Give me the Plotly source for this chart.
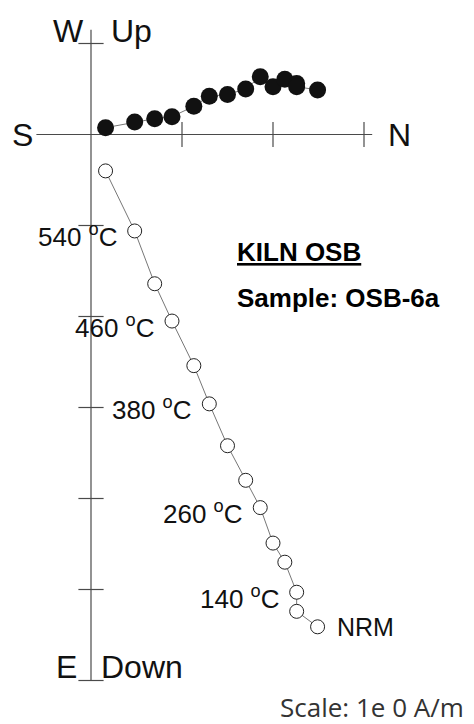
import plotly.graph_objects as go

# Zijderveld data (units of scale ticks), ordered from highest step to NRM
north = [0.16, 0.48, 0.70, 0.89, 1.13, 1.30, 1.50, 1.70, 1.86, 2.00, 2.13, 2.26, 2.26, 2.49]
west = [0.075, 0.137, 0.174, 0.196, 0.31, 0.42, 0.44, 0.50, 0.635, 0.525, 0.607, 0.56, 0.525, 0.49]
down = [0.40, 1.06, 1.64, 2.05, 2.54, 2.96, 3.42, 3.80, 4.10, 4.49, 4.70, 5.03, 5.24, 5.41]
step_labels = ["", "540 <sup>o</sup>C", "", "460 <sup>o</sup>C", "", "380 <sup>o</sup>C", "", "",
               "260 <sup>o</sup>C", "", "", "140 <sup>o</sup>C", "", "NRM"]
h_ticks = [1, 2, 3]
v_ticks = [1, -1, -2, -3, -4, -5, -6]

OFF = 8  # page body margin
W, H = 474 - OFF, 724 - OFF
X0, Y0, S = 91.0 - OFF, 134.5 - OFF, 91.0  # origin pixel and px per unit


def px(x):
    return (x - OFF) / W


def py(y):
    return 1 - (y - OFF) / H


fig = go.Figure()

axis_col = "#4a4a4a"
# axes
fig.add_trace(go.Scatter(x=[-0.6, 3.09], y=[0, 0], mode="lines",
                         line=dict(color=axis_col, width=1.2), hoverinfo="skip"))
fig.add_trace(go.Scatter(x=[0, 0], y=[1.15, -6.0], mode="lines",
                         line=dict(color=axis_col, width=1.2), hoverinfo="skip"))
# tick crosses
fig.add_trace(go.Scatter(x=h_ticks, y=[0] * len(h_ticks), mode="markers",
                         marker=dict(symbol="line-ns", size=18,
                                     line=dict(color=axis_col, width=1.2)),
                         hoverinfo="skip"))
fig.add_trace(go.Scatter(x=[0] * len(v_ticks), y=v_ticks, mode="markers",
                         marker=dict(symbol="line-ew", size=18,
                                     line=dict(color=axis_col, width=1.2)),
                         hoverinfo="skip"))

# horizontal projection (filled)
fig.add_trace(go.Scatter(x=north, y=west, mode="lines+markers",
                         line=dict(color="#777777", width=1),
                         marker=dict(size=17, color="#111111",
                                     line=dict(color="#111111", width=0))))
# vertical projection (open)
fig.add_trace(go.Scatter(x=north, y=[-d for d in down], mode="lines+markers",
                         line=dict(color="#777777", width=1),
                         marker=dict(size=14, color="white",
                                     line=dict(color="#222222", width=1))))

annotations = []
font_lab = dict(family="Liberation Sans, Arial, sans-serif", color="#111111")

for i, lab in enumerate(step_labels):
    if not lab:
        continue
    if lab == "NRM":
        annotations.append(dict(x=north[i], y=-down[i], xref="x", yref="y",
                                text=lab, showarrow=False, xanchor="left",
                                yanchor="middle", xshift=17, yshift=0,
                                font=dict(size=25, **font_lab)))
    else:
        annotations.append(dict(x=north[i], y=-down[i], xref="x", yref="y",
                                text=lab, showarrow=False, xanchor="right",
                                yanchor="middle", xshift=-15, yshift=-5,
                                font=dict(size=26, **font_lab)))

big = dict(size=32, family="Liberation Sans, Arial, sans-serif", color="#111111")
for txt, x, y, anc in [("W", 86, 31, "right"), ("Up", 109, 31, "left"),
                       ("S", 35, 135, "right"), ("N", 386, 135, "left"),
                       ("E", 79, 667, "right"), ("Down", 99, 667, "left")]:
    annotations.append(dict(x=px(x), y=py(y), xref="paper", yref="paper", text=txt,
                            showarrow=False, xanchor=anc, yanchor="middle", font=big))

annotations.append(dict(x=px(235), y=py(252), xref="paper", yref="paper",
                        text="<b><u>KILN OSB</u></b>", showarrow=False,
                        xanchor="left", yanchor="middle",
                        font=dict(size=26, family="Liberation Sans, Arial, sans-serif", color="black")))
annotations.append(dict(x=px(235), y=py(298), xref="paper", yref="paper",
                        text="<b>Sample: OSB-6a</b>", showarrow=False,
                        xanchor="left", yanchor="middle",
                        font=dict(size=26, family="Liberation Sans, Arial, sans-serif", color="black")))
annotations.append(dict(x=px(466), y=py(707), xref="paper", yref="paper",
                        text="Scale: 1e 0 A/m", showarrow=False,
                        xanchor="right", yanchor="middle",
                        font=dict(size=26, family="Open Sans, sans-serif", color="#333333")))

fig.update_layout(
    width=W, height=H, margin=dict(l=0, r=0, t=0, b=0),
    paper_bgcolor="white", plot_bgcolor="white", showlegend=False,
    xaxis=dict(range=[-X0 / S, (W - X0) / S], visible=False, fixedrange=True),
    yaxis=dict(range=[-(H - Y0) / S, Y0 / S], visible=False, fixedrange=True),
    annotations=annotations,
)

fig.write_html("out.html")
